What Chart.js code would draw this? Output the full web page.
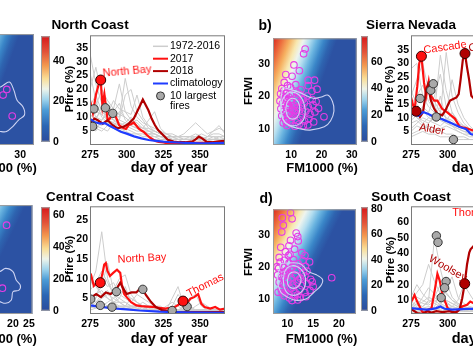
<!DOCTYPE html>
<html><head><meta charset="utf-8">
<script src="https://cdn.jsdelivr.net/npm/chart.js@4.4.1/dist/chart.umd.min.js"></script>
<style>
html,body{margin:0;padding:0;background:#fff;overflow:hidden;width:473px;height:355px;}
#root{position:relative;width:473px;height:355px;overflow:hidden;}
canvas{position:absolute;}
.t{position:absolute;font-family:"Liberation Sans",Arial,Helvetica,sans-serif;font-weight:bold;white-space:nowrap;color:#000;line-height:1;}
</style></head><body><div id="root"></div>
<script>
// ================= DATA =================
const dayTicks = [275,300,325,350];
const grayDays = [275,279,283,287,291,295,299,303,307,311,315,319,323,327,331,335,339,343,347,351,355,359,363,367];

// ---- North Coast ----
const ncGray = [
 [33,22,15,12,10,9,8,7,6,5,4,4,3,3,2,2,2,2,2,1.5,1.5,2,2,2],
 [20,28,18,14,12,11,10,8,7,6,5,5,4,3,3,3,2,2,2,2,2,2,2,2],
 [12,14,20,16,13,22,12,9,8,6,6,5,4,4,3,3,3,3,3,2,2,3,3,2],
 [8,10,12,14,11,10,24,14,10,8,7,6,5,4,4,3,3,3,2,2,2,2,2,2],
 [15,10,9,11,16,13,12,11,18,10,7,5,4,3,3,2,2,2,2,2,2,2,2,2],
 [6,8,7,9,8,12,10,8,7,6,9,12,6,4,3,3,2,3,4,3,2,2,2,2],
 [10,12,11,9,8,7,6,8,9,7,5,4,3,3,2,2,2,2,2,2,3,5,7,4],
 [5,6,5,7,6,5,6,5,4,4,3,3,2,2,2,2,1,1,1,1,1,1,1,1],
 [26,16,10,8,7,9,18,20,12,9,6,5,4,3,3,3,4,6,8,6,4,5,6,5],
 [9,7,6,5,8,6,5,4,4,3,3,2,2,2,2,2,2,2,2,2,3,4,4,3],
 [14,18,12,10,9,8,7,6,5,5,4,3,3,2,2,2,2,2,2,2,2,2,2,2],
 [7,5,9,12,9,7,8,10,7,5,4,4,3,3,3,2,2,2,3,4,3,3,2,2],
 [11,9,14,8,12,15,9,7,6,5,5,4,3,3,2,2,2,2,2,2,2,2,3,3]
];
const nc2017Days = [275,277,279,281,282.3,283.5,284.8,287,288.5,290.3,292.6,294.8,296.5,298,299.5,301.4,303,304.8,306.5,308.1,310,311.4,314,316,318.1,320,322,325,327,330,335,340,345,350,355,360,367];
const nc2017 = [16,11.5,18,22,23.4,14,18.3,9,9.5,11.3,10.1,7.2,6.5,6,5.8,7.2,7.5,8.1,7,6,5.2,4.8,3.5,2.6,1.9,1.4,1.1,0.9,0.7,0.7,0.7,0.7,0.8,0.8,0.8,0.9,0.9];
const nc2018Days = [275,278,280.3,283.7,287,290.3,293.7,298,301.4,304.8,307,309.2,311,312.6,314.8,317,319.2,321.4,324.8,328,332,336,340,344.8,347,349.2,351.4,354.8,358,362.6,367];
const nc2018 = [7.7,9.5,8.9,7.7,8.9,7.2,6,6.6,7.7,9.5,11.9,14.3,16.4,14.8,12.5,9.5,7.2,5.4,3.6,1.9,1.2,1.0,1.0,1.3,2.0,3.0,2.4,1.0,1.0,1.3,1.5];
const ncClimDays = [275,278,282,285,288,292,296,300,305,310,315,320,325,330,335,340,345,350,355,360,367];
const ncClim = [9.4,8.3,7.7,7.9,7.0,5.9,4.8,4.1,3.1,2.4,1.8,1.5,1.2,1.0,0.9,0.8,0.7,0.6,0.6,0.7,0.8];
const ncFireDays = [276.8,277.7,285.5,290.5];
const ncFireP = [6.7,13,13.4,11.4];
const ncMark17Days = [282.3], ncMark17P = [23.4];
const ncMark18Days = [], ncMark18P = [];

// ---- Sierra Nevada ----
const snGray = [
 [28,30,18,14,12,33,20,12,9,7,6,5,4],
 [20,15,12,22,16,12,10,8,7,6,5,4,4],
 [10,12,14,12,18,26,14,10,8,7,6,5,4],
 [6,8,10,9,8,7,9,12,8,6,5,4,3],
 [15,18,22,16,13,11,34,18,12,8,6,5,4],
 [4,5,6,7,6,5,4,4,3,3,2,2,2],
 [12,10,9,8,11,14,12,24,15,10,7,5,4],
 [8,9,7,6,5,6,7,6,5,4,3,3,3],
 [18,24,30,20,14,10,8,7,6,5,5,4,3],
 [3,4,5,4,4,3,3,3,2,2,2,2,2],
 [9,11,13,10,9,12,10,9,7,6,5,4,4],
 [14,10,8,10,12,9,8,7,6,5,4,3,3],
 [5,7,6,8,10,18,9,7,5,4,4,3,3]
];
const sn2017Days = [275,276.5,277.5,279.3,280.6,282.1,283.9,285.4,287.1,288.6,290.8,293,296.2,299.5,302,304.9,308.1,310,312.4,315.7,318,322,326];
const sn2017 = [17.5,14.5,13.3,21.6,30,32.6,22.8,18.1,23.4,18.1,16.3,16.3,13.3,12.1,11,9.7,6.8,6.5,6.2,5.6,5.2,4.8,4.5];
const sn2018Days = [275,277.2,278.5,281.1,283.2,285.4,286.5,288.6,290.8,293,296.2,298.4,301.6,303.8,306,307.5,308.8,310.3,311.8,313.1,314.6,316.1,318,322,326];
const sn2018 = [13.3,12.8,12.4,10.3,12.1,20.5,22.2,16.3,13.3,11.5,10.9,12.7,16.3,16.9,17.5,18.7,24,31.2,33.6,28.8,24,18.1,17,14,12];
const snClimDays = [275,280,283.2,286.5,290.8,296.2,302.7,308.1,312.4,315.7,320,326];
const snClim = [11.5,10.7,12.1,11.5,10.3,9.5,8.0,6.6,5.9,4.0,3.5,3.2];
const snFireDays = [281.2,288.5,290.2,292.2,303.9];
const snFireP = [17.1,20.1,22.5,10.3,2.0];
const snMark17Days = [282.1], snMark17P = [32.6];
const snMark18Days = [278.5,311.8], snMark18P = [12.4,33.6];

// ---- Central Coast ----
const ccGray = [
 [8,12,22,10,6,5,4,3,3,2.5,2,2,2,2,2,2,1.8,1.8,1.8,1.8,1.8,1.8,1.8,1.8],
 [5,6,8,14,7,10,11,6,4,3,3,2.5,2,2,5,8,3,2,2,2,2,2,2,2],
 [3,4,5,6,5,4,4,3,3,3,2.5,2,2,2,2,2,2,2,3,4,3,2,2,2],
 [6,5,10,8,9,6,5,4,6,5,4,3,3,2,2,2,2,2,2,2,2,2,2,2],
 [4,3,3,4,5,7,6,5,4,3,3,3,2,2,2,2,3,2,2,2,2,2,2,2],
 [10,8,6,5,4,4,3,3,2.5,2,2,2,2,2,2,2,2,2,2,2,2,2,2,2],
 [2.5,3,4,3,3,3,3,5,4,3,2,2,2,2,2,2,2,5,6,3,2,2,2,2],
 [7,9,12,9,6,4,3,3,3,2,2,2,2,2,3,6,4,3,2,2,2,2,2,2],
 [3,2.5,2.5,3,3,2.5,2.5,2,2,2,2,2,2,2,2,2,2,2,2,2,2,2,2,2],
 [4,6,7,5,4,3,3,2.5,2.5,2,2,2,2,2,2,2,2,2,2,2,2,2,2,2],
 [5,4,6,7,4,5,8,4,3,3,2,2,2,3,4,3,2,2,2,2,2,2,2,2],
 [2,2.5,3,2.5,2.5,3,2.5,2.5,3,4,3,2,2,2,2,2,2,2,2,2,2,2,2,2]
];
const cc2017Days = [275,275.9,277.6,279.8,282,283.6,284.7,285.8,286.9,288.6,290.8,293.4,295.6,296.7,298.3,300,303,306.6,310,314,317.6,322,326.3,330,332.9,336.2,338.4,340.6,343.4,346,348.7,350.9,353.1,357,360.3,363.6,367];
const cc2017 = [10,10.7,8.2,9.0,9.0,11.5,13.6,14,12,10.7,11.5,12.3,11.5,8.6,6.1,5.3,4.0,3.2,3.0,2.9,2.8,2.6,2.4,2.6,2.8,3.6,4.3,3.5,4.9,5.3,6.1,3.6,2.8,2.4,2.8,2.1,2.4];
const cc2018Days = [275,275.9,279.2,282.5,285.8,289,292.3,295.6,297.8,300,303.3,306.6,308.8,311,313.2,316.5,319.8,324.1,330.7,339.5,352.6,367];
const cc2018 = [5.3,5.25,6.1,5.3,6.5,6.1,6.9,9.0,7.4,6.1,6.5,6.5,7.4,7.2,5.8,4.1,2.8,2.0,1.5,1.5,1.5,1.5];
const ccClimDays = [275,282.5,291.2,300,308.8,322,339.5,367];
const ccClim = [3.2,2.8,2.4,2.2,1.9,1.6,1.4,1.3];
const ccFireDays = [275.5,282,290,293,311,331,341.2];
const ccFireP = [4.8,3.2,2.75,6.7,7.3,1.9,2.9];
const ccMark17Days = [282,338.4], ccMark17P = [9.0,4.3];
const ccMark18Days = [], ccMark18P = [];

// ---- South Coast ----
const scGray = [
 [10,15,20,33,22,14,10,8,6,5,5,4,4],
 [5,8,6,10,50,30,15,10,8,6,5,4,4],
 [15,12,10,8,12,20,14,10,7,5,5,5,4],
 [3,4,5,6,5,8,22,12,8,6,5,4,3],
 [8,6,12,18,14,10,8,6,5,4,4,3,3],
 [2,3,3,4,4,5,5,6,10,20,14,8,5],
 [6,10,8,7,9,12,10,8,6,5,4,4,3],
 [4,3,4,5,4,4,3,3,3,3,3,3,3],
 [12,20,14,10,8,6,18,25,12,8,6,5,4],
 [7,5,6,9,12,8,6,5,4,4,3,3,3],
 [3,5,4,3,6,15,9,6,5,4,4,3,3],
 [9,7,9,12,10,7,5,4,4,3,3,3,3]
];
const sc2017Days = [275,275.9,277.4,279.2,280.9,282.5,284.7,286.8,289,291.2,293,294.5,296.3,297.8,300,303.3,306.6,309.9,313.2,315.4,318,322];
const sc2017 = [9,10.2,13.3,9.2,6.0,2.9,1.5,4.0,5.0,16.5,26.9,22.7,14.4,10.2,5.0,1.9,2.9,6.0,7.1,9.2,8,7];
const sc2018Days = [275,275.9,279.2,282.5,285.8,289,292.3,296.7,301.1,305.5,308.1,309.9,311.6,313.2,314.7,315.6,318,322];
const sc2018 = [4,3.9,1.9,1.3,3.1,2.1,3.1,2.5,3.1,2.1,4.2,11.3,20.6,33,40.4,42.5,45,40];
const scClimDays = [275,281.4,285.8,289,292.3,295,297.8,303.3,309.9,315.4,322];
const scClim = [5,4.4,4.0,4.4,5.0,6.0,4.6,4.0,4.4,4.6,4.5];
const scFireDays = [292.3,293.4,298.9,297.9,295.6];
const scFireP = [51.2,47,22,18,11.7];
const scMark17Days = [], scMark17P = [];
const scMark18Days = [311.6], scMark18P = [20.6];

// ---- FFWI vs FM1000 panels ----
const aFiresX = [25.3,24.0,27.2], aFiresY = [21.5,19.8,13.6];
const aContX = [20,23.1,26.2,27.8,28.9,31,31.5,29.4,27.3,25.2,23.1,20,18,20];
const aContY = [22,22.2,23.7,21.2,18.3,16.3,13.9,12.4,10.4,9.0,9.0,9.5,15,22];

const bFiresX = [14.6,14.1,10.9,12.7,8.2,10.3,7.7,8.8,15.6,17.7,15.6,6.9,9.8,11.5,13.2,16.8,18.5,
 6.5,7.4,8.3,9.2,10.4,11.6,12.8,14.1,15.3,16.9,18.2,
 6.3,7.1,8.0,9.0,9.9,10.9,12.0,13.1,14.3,15.6,17.2,19.0,
 6.6,7.5,8.5,9.5,10.5,11.4,12.5,13.6,14.8,16.2,17.8,20.8,
 6.9,7.9,8.9,9.9,10.9,12.0,13.1,14.4,15.8,17.4,
 7.4,8.6,9.8,11.2,12.6,14.0,15.5,
 8.0,10.0,11.0,9.4,12.2,10.2,8.3,13.8,11.8,7.6];
const bFiresY = [34.6,33.1,29.7,27.9,26.7,26.2,24.3,23.3,25.0,25.0,23.3,22.4,22.8,23.6,22.0,21.6,22.2,
 20.8,20.1,20.9,19.8,20.4,19.7,20.6,19.5,20.1,19.0,18.4,
 18.6,17.8,18.9,17.5,18.4,17.2,18.1,17.0,17.9,16.8,17.4,16.3,
 16.2,15.4,16.5,15.1,16.0,14.9,15.7,14.6,15.4,14.5,15.2,13.7,
 14.0,13.1,14.3,12.8,13.7,12.6,13.5,12.4,13.0,12.1,
 11.8,11.0,11.6,10.8,11.4,10.9,11.2,
 19.5,19.0,15.5,16.8,16.6,14.2,12.2,19.0,21.3,21.8];
const bContOutX = [7.2,12.5,17.3,19.9,22.0,23.6,24.1,23.0,20.9,16.2,12.5,9.3,7.2,6.4,7.2];
const bContOutY = [22.8,21.3,19.4,19.8,20.4,18.4,15.5,12.5,10.6,9.6,10.1,11.0,13.0,16.9,22.8];
const bContMidX = [6.6,7.3,9.5,12.5,14.3,14.5,12.8,9.8,7.5,6.6];
const bContMidY = [16,19.3,21.2,20.5,17.5,14,11.5,11,12.6,16];
const bContInX = [8.2,8.8,10.5,12.3,12.8,12,10.2,8.8,8.2];
const bContInY = [16,18.4,19.4,18.3,15.8,13.6,13,13.9,16];

const cFiresX = [18.0,16.7], cFiresY = [32.1,13.0];
const cContX = [13,15.8,17.7,20,21,22.3,21.9,20,19.5,17.7,15.8,13,12,13];
const cContY = [18.5,18.0,19.0,18.0,15.5,13.9,12.4,11.9,9.4,8.4,8.9,9.5,14,18.5];

const dFiresX = [10.6,9.0,10.9,9.2,8.9,11.7,12.0,10.6,12.1,10.3,8.7,11.4,9.6,13.4,14.3,8.0,18.6,12.8,10.2,8.4,13.5,
 8.6,9.4,10.3,11.2,12.1,13.0,
 8.3,9.1,10.0,10.9,11.8,12.7,13.8,
 8.1,8.9,9.8,10.7,11.6,12.5,13.4,14.5,
 8.4,9.2,10.1,11.0,11.9,12.8,13.8,15.0,
 8.8,9.7,10.6,11.5,12.4,13.4,14.4,
 9.4,10.4,11.4,12.5,13.6,
 9.6,11.3,10.4,12.2,9.5,11.1,10.1,12.0,13.1,9.0,10.9,12.0,8.2,14.8,10.5];
const dFiresY = [37.1,35.5,35.2,33.2,31.0,30.7,29.6,28.4,28.2,26.7,26.2,25.6,24.8,23.6,21.6,20.1,16.6,24.5,23.6,23.0,20.2,
 21.5,22.1,21.2,22.3,21.0,22.0,
 19.6,20.0,19.1,19.9,18.9,19.8,18.7,
 17.5,16.8,17.7,16.6,17.5,16.4,17.2,16.1,
 15.2,14.5,15.4,14.3,15.2,14.1,14.8,13.8,
 13.0,12.2,13.1,12.0,12.9,11.9,12.6,
 10.9,10.2,10.8,10.3,10.6,
 18.5,20.8,17.9,15.9,16.2,13.6,11.5,11.2,18.2,11.8,9.4,9.6,12.0,15.3,24.0];
const dContOutX = [8.7,12.4,14.0,15.5,16.8,16.5,15.2,13.7,11.5,10.0,8.7,8.1,8.7];
const dContOutY = [21.1,21.1,18.6,17.6,16.1,14.1,12.1,10.0,9.5,10.5,12.1,16.1,21.1];
const dContMidX = [9.2,9.6,11,12.6,13.5,13.2,11.8,10.2,9.4,9.2];
const dContMidY = [16,19,20.4,19.3,16.5,13.2,11.2,11.5,13.4,16];
const dContInX = [10,10.4,11.5,12.4,12.6,11.8,10.7,10.1,10];
const dContInY = [15.8,17.8,18.4,17.3,15.2,13.5,13.4,14.4,15.8];

// ================= STYLE / HELPERS =================
const FONT = '"Liberation Sans", Arial, Helvetica, sans-serif';
Chart.defaults.font.family = FONT;
Chart.defaults.color = '#000';
const C17 = '#ff1010', C18 = '#b00000', CCLIM = '#1f3cff', CGRAY = '#cdcdcd';
const TICK = 10.5;
const cbarStops = [[0,'#2c4c9c'],[0.15,'#2b66b4'],[0.3,'#4c9cd6'],[0.4,'#9ed3ec'],[0.5,'#eef4ea'],[0.6,'#f9dd96'],[0.72,'#f39a50'],[0.85,'#e2543a'],[1,'#d7191c']];
const heatStops = [[0,'#d9261f'],[0.14,'#ec6a3c'],[0.27,'#f6b060'],[0.39,'#f8e8b0'],[0.48,'#eef4ee'],[0.58,'#b4def0'],[0.69,'#6ab4e0'],[0.8,'#3a86c8'],[0.9,'#2e64b0'],[1,'#2c52a3']];

const root = document.getElementById('root');
const zip = (xs, ys) => ys.map((y, i) => ({x: xs[i], y}));

function mkCanvas(area, pad){
  const c = document.createElement('canvas');
  const W = area.w + pad.l + pad.r, H = area.h + pad.t + pad.b;
  c.width = W; c.height = H;
  c.style.left = (area.x - pad.l) + 'px'; c.style.top = (area.y - pad.t) + 'px';
  c.style.width = W + 'px'; c.style.height = H + 'px';
  root.appendChild(c);
  return c;
}

const framePlugin = {id:'frame', afterDatasetsDraw(chart, args, o){
  const a = chart.chartArea, c = chart.ctx;
  c.save(); c.strokeStyle = o.color || '#777'; c.lineWidth = 1;
  c.strokeRect(a.left + 0.5, a.top + 0.5, a.right - a.left - 1, a.bottom - a.top - 1);
  c.restore();
}};
const fieldPlugin = {id:'field', beforeDatasetsDraw(chart, args, o){
  const a = chart.chartArea, c = chart.ctx;
  const g = c.createLinearGradient(a.left, a.top, a.left + o.dx, a.top + o.dy);
  heatStops.forEach(s => g.addColorStop(s[0], s[1]));
  c.save(); c.fillStyle = g; c.fillRect(a.left, a.top, a.right - a.left, a.bottom - a.top); c.restore();
}};
const cbarPlugin = {id:'cbar', beforeDatasetsDraw(chart){
  const a = chart.chartArea, c = chart.ctx;
  const g = c.createLinearGradient(0, a.bottom, 0, a.top);
  cbarStops.forEach(s => g.addColorStop(s[0], s[1]));
  c.save(); c.fillStyle = g; c.fillRect(a.left, a.top, a.right - a.left, a.bottom - a.top); c.restore();
}};
const legendPlugin = {id:'inlegend', afterDraw(chart, args, o){
  if (!o.items) return;
  const c = chart.ctx, a = chart.chartArea;
  c.save(); c.font = '10.5px ' + FONT; c.textBaseline = 'middle';
  o.items.forEach((it, i) => {
    const y = a.top + o.y0 + i * o.dy, x = a.left + o.x0;
    if (it.kind === 'line') {
      c.strokeStyle = it.color; c.lineWidth = it.width; c.beginPath(); c.moveTo(x, y); c.lineTo(x + o.len, y); c.stroke();
    } else {
      c.beginPath(); c.arc(x + o.len / 2, y, 4, 0, Math.PI * 2); c.fillStyle = '#a9a9a9'; c.fill();
      c.strokeStyle = '#333'; c.lineWidth = 1; c.stroke();
    }
    c.fillStyle = '#000';
    it.text.forEach((t, j) => c.fillText(t, x + o.len + 2, y + j * o.lh));
  });
  c.restore();
}};

function axis(min, max, ticks, o){
  const ax = {type:'linear', min, max, display: o.display !== false, position: o.position,
    grid:{display:false, drawTicks:false}, border:{display:false},
    afterBuildTicks: s => { s.ticks = ticks.map(v => ({value: v})); },
    ticks:{font:{size:TICK, weight:'bold'}, color:'#000', padding: o.padding, maxRotation:0, autoSkip:false, callback: v => String(v)}};
  if (o.fit) ax.afterFit = o.fit;
  return ax;
}
const baseOpts = {responsive:false, animation:false, devicePixelRatio:1, events:[], maintainAspectRatio:false};

function lineChart(area, ymin, ymax, yticks, gray, s17, s18, clim, fires, m17, m18, legend){
  const pad = {l:26, r:3, t:6, b:18};
  const cv = mkCanvas(area, pad);
  const ds = [];
  const mk = (d, color) => ({data: zip(d[0], d[1]), showLine:false, pointRadius:5, borderWidth:1, borderColor:'#300000', backgroundColor:color});
  ds.push(mk(m17, C17)); ds.push(mk(m18, C18));
  ds.push({data: zip(fires[0], fires[1]), showLine:false, pointRadius:4.2, borderWidth:1, borderColor:'#333', backgroundColor:'#a9a9a9'});
  ds.push({data: zip(clim[0], clim[1]), showLine:true, borderColor:CCLIM, borderWidth:2.2, pointRadius:0});
  ds.push({data: zip(s18[0], s18[1]), showLine:true, borderColor:C18, borderWidth:2.2, pointRadius:0});
  ds.push({data: zip(s17[0], s17[1]), showLine:true, borderColor:C17, borderWidth:2.2, pointRadius:0});
  gray.forEach(g => ds.push({data: zip(grayDays, g), showLine:true, borderColor:CGRAY, borderWidth:1, pointRadius:0}));
  return new Chart(cv, {type:'scatter', data:{datasets: ds}, options: Object.assign({}, baseOpts, {
    layout:{padding:{top:pad.t, right:pad.r, left:0, bottom:0}},
    plugins:{legend:{display:false}, tooltip:{enabled:false}, frame:{color:'#7a7a7a'}, inlegend: legend || {}},
    scales:{
      x: axis(275, 367, dayTicks, {padding:4, fit: s => { s.height = pad.b; }}),
      y: axis(ymin, ymax, yticks, {padding:2, fit: s => { s.width = pad.l; }})
    }}), plugins:[framePlugin, legendPlugin]});
}

function heatChart(area, xr, xt, yr, yt, showY, pts, contours, grad){
  const pad = {l: showY ? 20 : 0, r:2, t:4, b:18};
  const cv = mkCanvas(area, pad);
  const ds = contours.map(c => ({data: zip(c[0], c[1]), showLine:true, borderColor:'#cdd3f3', borderWidth:1.1, pointRadius:0, tension:0.35}));
  ds.push({data: zip(pts[0], pts[1]), showLine:false, pointRadius:3.3, borderWidth:1.1, borderColor:'#e63de6', backgroundColor:'rgba(0,0,0,0)'});
  const yax = showY ? axis(yr[0], yr[1], yt, {padding:3, fit: s => { s.width = pad.l; }}) : {type:'linear', min:yr[0], max:yr[1], display:false};
  return new Chart(cv, {type:'scatter', data:{datasets: ds}, options: Object.assign({}, baseOpts, {
    layout:{padding:{top:pad.t, right:pad.r, left:0, bottom:0}},
    plugins:{legend:{display:false}, tooltip:{enabled:false}, field:grad, frame:{color:'#9c9c9c'}},
    scales:{ x: axis(xr[0], xr[1], xt, {padding:4, fit: s => { s.height = pad.b; }}), y: yax }
  }), plugins:[fieldPlugin, framePlugin]});
}

function colorbarChart(area, max, ticks){
  const pad = {l:0, r:24, t:6, b:6};
  const cv = mkCanvas(area, pad);
  return new Chart(cv, {type:'scatter', data:{datasets:[]}, options: Object.assign({}, baseOpts, {
    layout:{padding:{top:pad.t, right:0, left:0, bottom:pad.b}},
    plugins:{legend:{display:false}, tooltip:{enabled:false}, frame:{color:'#9c9c9c'}},
    scales:{ x:{type:'linear', min:0, max:1, display:false},
             y: axis(0, max, ticks, {position:'right', padding:3, fit: s => { s.width = pad.r; }}) }
  }), plugins:[cbarPlugin, framePlugin]});
}

function txt(s, cx, cy, size, o){
  o = o || {};
  const d = document.createElement('div'); d.className = 't'; d.textContent = s;
  d.style.fontSize = size + 'px';
  if (o.color) d.style.color = o.color;
  if (o.normal) d.style.fontWeight = 'normal';
  d.style.left = cx + 'px'; d.style.top = cy + 'px';
  d.style.transform = 'translate(-50%,-50%) rotate(' + (o.rot || 0) + 'deg)';
  root.appendChild(d);
}

// ================= BUILD =================
const legendCfg = {x0:63, len:15, y0:11, dy:12.4, lh:10.5, items:[
  {kind:'line', color:CGRAY, width:1.5, text:['1972-2016']},
  {kind:'line', color:C17, width:2, text:['2017']},
  {kind:'line', color:C18, width:2, text:['2018']},
  {kind:'line', color:CCLIM, width:2, text:['climatology']},
  {kind:'dot', text:['10 largest','fires']}
]};

// top row
heatChart({x:-50, y:33, w:87, h:112}, [7.2,34.8], [10,20,30], [5,37.9], [10,20,30], false,
  [aFiresX, aFiresY], [[aContX, aContY]], {dx:57, dy:21});
colorbarChart({x:41, y:33, w:9, h:112}, 52, [0,20,40]);
lineChart({x:90, y:33, w:138, h:112}, 0, 39.5, [5,10,15,20,25,30,35], ncGray,
  [nc2017Days, nc2017], [nc2018Days, nc2018], [ncClimDays, ncClim], [ncFireDays, ncFireP],
  [ncMark17Days, ncMark17P], [ncMark18Days, ncMark18P], legendCfg);
heatChart({x:273, y:33, w:87, h:112}, [4,31.6], [10,20,30], [5,37.9], [10,20,30], true,
  [bFiresX, bFiresY], [[bContOutX, bContOutY],[bContMidX, bContMidY],[bContInX, bContInY]], {dx:57, dy:21});
colorbarChart({x:361, y:33, w:7, h:112}, 79, [0,20,40,60]);
lineChart({x:411, y:33, w:138, h:112}, 0, 40.3, [5,10,15,20,25,30,35], snGray,
  [sn2017Days, sn2017], [sn2018Days, sn2018], [snClimDays, snClim], [snFireDays, snFireP],
  [snMark17Days, snMark17P], [snMark18Days, snMark18P], null);

// bottom row
heatChart({x:-50, y:204, w:87, h:110}, [1.9,26.1], [20,25], [5.15,38.2], [10,20,30], false,
  [cFiresX, cFiresY], [[cContX, cContY]], {dx:57, dy:28});
colorbarChart({x:41, y:204, w:9, h:110}, 65, [0,20,40,60]);
lineChart({x:90, y:204, w:138, h:110}, 1, 28.5, [5,10,15,20,25], ccGray,
  [cc2017Days, cc2017], [cc2018Days, cc2018], [ccClimDays, ccClim], [ccFireDays, ccFireP],
  [ccMark17Days, ccMark17P], [ccMark18Days, ccMark18P], null);
heatChart({x:273, y:204, w:86, h:110}, [7.2,23.3], [10,15,20], [5.15,38.2], [10,20,30], true,
  [dFiresX, dFiresY], [[dContOutX, dContOutY],[dContMidX, dContMidY],[dContInX, dContInY]], {dx:57, dy:28});
colorbarChart({x:361, y:204, w:7, h:110}, 81.5, [0,20,40,60,80]);
lineChart({x:411, y:204, w:138, h:110}, 1.25, 70, [10,20,30,40,50,60], scGray,
  [sc2017Days, sc2017], [sc2018Days, sc2018], [scClimDays, scClim], [scFireDays, scFireP],
  [scMark17Days, scMark17P], [scMark18Days, scMark18P], null);

// ================= TEXT =================
txt('North Coast', 90, 25, 13.5);
txt('Sierra Nevada', 411, 25, 13.5);
txt('Central Coast', 90, 197, 13.5);
txt('South Coast', 411, 197, 13.5);
txt('b)', 265, 25, 14);
txt('d)', 266, 198, 14);

txt('FM1000 (%)', 1, 167, 13);
txt('FM1000 (%)', 322, 167, 13);
txt('FM1000 (%)', 1, 338, 13);
txt('FM1000 (%)', 321.5, 338, 13);
txt('FFWI', 248.5, 91, 11.5, {rot:-90});
txt('FFWI', 248.5, 262, 11.5, {rot:-90});
txt('Pfire (%)', 70, 89, 11.5, {rot:-90});
txt('Pfire (%)', 390, 89, 11.5, {rot:-90});
txt('Pfire (%)', 70, 259, 11.5, {rot:-90});
txt('Pfire (%)', 390.5, 260, 11.5, {rot:-90});
txt('day of year', 169, 167, 14.5);
txt('day of year', 490, 167, 14.5);
txt('day of year', 169, 338, 14.5);
txt('day of year', 490, 338, 14.5);

txt('North Bay', 127, 71, 11, {color:C17, normal:true, rot:-5});
txt('Cascade', 445, 47, 11, {color:C17, normal:true, rot:-8});
txt('Alder', 432, 129, 11, {color:C18, normal:true, rot:10});
txt('Camp', 483, 46, 11, {color:C18, normal:true, rot:-8});
txt('North Bay', 142, 258, 11, {color:C17, normal:true, rot:-3});
txt('Thomas', 205, 285, 11, {color:C17, normal:true, rot:-27});
txt('Woolsey', 448, 268, 11, {color:C18, normal:true, rot:30});
txt('Thomas', 472, 212, 11, {color:C17, normal:true});
</script></body></html>
